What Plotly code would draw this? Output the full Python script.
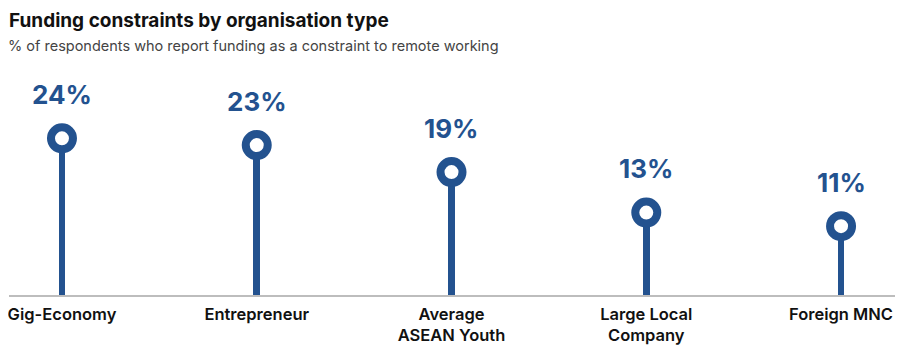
import plotly.graph_objects as go

categories = ["Gig-Economy", "Entrepreneur", "Average<br>ASEAN Youth", "Large Local<br>Company", "Foreign MNC"]
values = [24, 23, 19, 13, 11]
value_labels = ["24%", "23%", "19%", "13%", "11%"]

BLUE = "#23528f"
FONT = "Inter"
xs = list(range(len(categories)))

# page body has an 8px margin, so the figure is sized to fill the rest of the window
W, H = 899, 347
T, B, L, R = 50, 60, 1, 12
plot_h = H - T - B
plot_w = W - L - R

fig = go.Figure()
fig.add_trace(go.Bar(
    x=xs, y=values, base=0, width=0.035,
    marker=dict(color=BLUE, line=dict(width=0)),
    hoverinfo="skip",
))
fig.add_trace(go.Scatter(
    x=xs, y=values, mode="markers",
    marker=dict(symbol="circle", size=22, color="white", line=dict(color=BLUE, width=8)),
    cliponaxis=False, hoverinfo="skip",
))

for x, v, t in zip(xs, values, value_labels):
    fig.add_annotation(x=x, y=v, text=t, showarrow=False, yshift=44,
                       xanchor="center", yanchor="middle",
                       font=dict(family=FONT, size=26, color=BLUE, weight="bold"))

sub_px = 37.5
fig.add_annotation(xref="paper", yref="paper", x=-3 / plot_w, y=(H - B - sub_px) / plot_h,
                   text="% of respondents who report funding as a constraint to remote working",
                   showarrow=False, xanchor="left", yanchor="middle",
                   font=dict(family=FONT, size=14.5, color="#444444"))

fig.update_layout(
    width=W, height=H,
    margin=dict(l=L, r=R, t=T, b=B, autoexpand=False),
    paper_bgcolor="white", plot_bgcolor="white",
    showlegend=False,
    bargap=0,
    title=dict(text="<b>Funding constraints by organisation type</b>",
               x=1/W, xanchor="left", xref="container",
               y=1 - 12/H, yanchor="middle", yref="container",
               font=dict(family=FONT, size=19, color="#111111")),
    xaxis=dict(range=[-0.272, 4.277], tickmode="array", tickvals=xs, ticktext=categories,
               showgrid=False, zeroline=False, showline=True, linecolor="#bdbdbd", linewidth=2,
               ticks="", automargin=False, ticklabeloverflow="allow", ticklabelstandoff=3,
               tickfont=dict(family=FONT, size=16.5, color="#111111", weight=600),
               fixedrange=True),
    yaxis=dict(range=[0.8, 35.9], visible=False, showgrid=False, zeroline=False,
               automargin=False, fixedrange=True),
)

fig.write_html("out.html")
